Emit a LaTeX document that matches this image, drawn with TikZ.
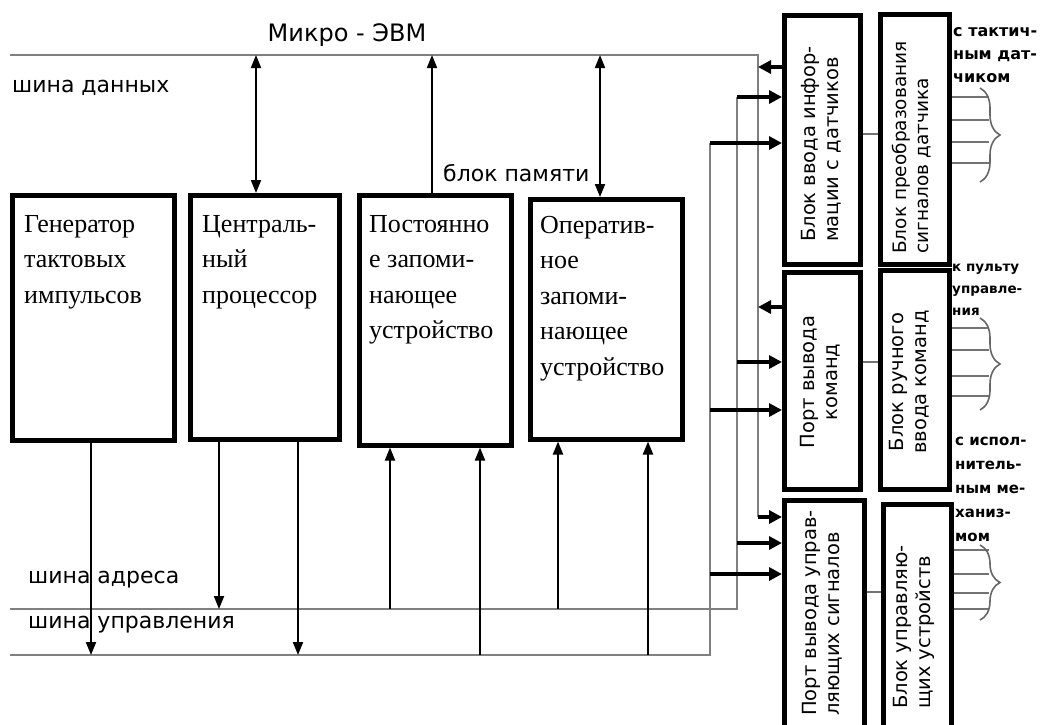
\documentclass[tikz,border=0pt]{standalone}
\usepackage{fontspec}
\setmainfont{Liberation Serif}
\setsansfont{DejaVu Sans}
\usetikzlibrary{arrows.meta,decorations.pathreplacing}

\begin{document}
\begin{tikzpicture}[x=1pt,y=-1pt,
  box/.style={draw, line width=4.5pt, inner sep=0pt, anchor=north west},
  bus/.style={draw=black!50, line width=2pt},
  sig/.style={line width=2pt, -{Triangle[length=13pt,width=10pt]}},
  dsig/.style={line width=2pt, {Triangle[length=13pt,width=10pt]}-{Triangle[length=13pt,width=10pt]}},
  port/.style={line width=3.5pt, -{Triangle[length=13pt,width=13pt]}},
  link/.style={draw=black!55, line width=1.6pt},
  brc/.style={decorate, decoration={brace, amplitude=20pt}, draw=black!60, line width=1.6pt},
  boxtext/.style={font=\fontsize{26}{35.5}\selectfont, align=left, anchor=north west, inner sep=0pt},
  vtext/.style={font=\sffamily\fontsize{19.5}{23}\selectfont, rotate=90, inner sep=0pt},
  lbl/.style={font=\sffamily\fontsize{22}{26}\selectfont, inner sep=0pt},
  side/.style={font=\sffamily\bfseries\fontsize{16}{23}\selectfont, align=left, anchor=west, inner sep=0pt}
]
\useasboundingbox (0,0) rectangle (1041,724);
\fill[white] (0,0) rectangle (1041,724);
\clip (0,0) rectangle (1041,724);

% processor-side blocks
\node[box, minimum width=162pt, minimum height=245pt] (gen) at (10,193) {};
\node[box, minimum width=149pt, minimum height=244pt] (cpu) at (188,193) {};
\node[box, minimum width=152pt, minimum height=250pt] (rom) at (357,193) {};
\node[box, minimum width=152pt, minimum height=240pt] (ram) at (528,197) {};

\node[boxtext] (genT) at (24,215) {Генератор\\тактовых\\импульсов};
\node[boxtext] (cpuT) at (202,215) {Централь-\\ный\\процессор};
\node[boxtext] (romT) at (369,215) {Постоянно\\е запоми-\\нающее\\устройство};
\node[boxtext] (ramT) at (540,216) {Оператив-\\ное\\запоми-\\нающее\\устройство};

% interface blocks
\node[box, minimum width=76pt, minimum height=249pt] (A) at (782,13) {};
\node[box, minimum width=69pt, minimum height=250pt] (B) at (878,12) {};
\node[box, minimum width=76pt, minimum height=217pt] (C) at (782,270) {};
\node[box, minimum width=69pt, minimum height=219pt] (D) at (878,268) {};
\node[box, minimum width=80pt, minimum height=240pt] (E) at (782,498) {};
\node[box, minimum width=68pt, minimum height=236pt] (F) at (881,502) {};

\node[vtext, anchor=west, align=left] (AT) at (821,242) {Блок ввода инфор-\\мации с датчиков};
\node[vtext, anchor=west, align=left, font=\sffamily\fontsize{18.5}{22}\selectfont] (BT) at (912,254) {Блок преобразования\\сигналов датчика};
\node[vtext, align=center] (CT) at (820,382) {Порт вывода\\команд};
\node[vtext, align=center] (DT) at (909,382) {Блок ручного\\ввода команд};
\node[vtext, anchor=west, align=left] (ET) at (822,716) {Порт вывода управ-\\ляющих сигналов};
\node[vtext, anchor=west, align=left] (FT) at (914,709) {Блок управляю-\\щих устройств};

% labels
\node[lbl, font=\sffamily\fontsize{24}{28}\selectfont] (mikro) at (347,35) {Микро - ЭВМ};
\node[lbl, anchor=west] (dbl) at (12,88) {шина данных};
\node[lbl, anchor=west] (mem) at (443,173) {блок памяти};
\node[lbl, anchor=west] (abl) at (28,580) {шина адреса};
\node[lbl, anchor=west] (cbl) at (28,625) {шина управления};

\node[side] (s1) at (953,55) {с тактич-\\ным дат-\\чиком};
\node[side, font=\sffamily\bfseries\fontsize{13.5}{22}\selectfont] (s2) at (952,290) {к пульту\\управле-\\ния};
\node[side, font=\sffamily\bfseries\fontsize{15}{24}\selectfont] (s3) at (955,489) {с испол-\\нитель-\\ным ме-\\ханиз-\\мом};

% buses
\coordinate (db0) at (10,55);  \coordinate (db1) at (758,55);  \coordinate (db2) at (758,517);
\coordinate (ab0) at (10,609); \coordinate (ab1) at (737,609); \coordinate (ab2) at (737,97);
\coordinate (cb0) at (10,655); \coordinate (cb1) at (710,655); \coordinate (cb2) at (710,143);
\draw[bus] (db0) -- (db1) -- (db2);
\draw[bus] (ab0) -- (ab1) -- (ab2);
\draw[bus] (cb0) -- (cb1) -- (cb2);

% data bus taps
\coordinate (t1) at (256,55); \draw[dsig] (t1) -- (t1 |- cpu.north);
\coordinate (t2) at (432,55); \draw[sig] (t2 |- rom.north) -- (t2);
\coordinate (t3) at (600,55); \draw[dsig] (t3) -- (t3 |- ram.north);

% address and control bus taps
\coordinate (g1) at (91,655);  \draw[sig] (g1 |- gen.south) -- (g1);
\coordinate (p1) at (219,609); \draw[sig] (p1 |- cpu.south) -- (p1);
\coordinate (p2) at (298,655); \draw[sig] (p2 |- cpu.south) -- (p2);
\coordinate (r1) at (390,609); \draw[sig] (r1) -- (r1 |- rom.south);
\coordinate (r2) at (480,655); \draw[sig] (r2) -- (r2 |- rom.south);
\coordinate (m1) at (558,609); \draw[sig] (m1) -- (m1 |- ram.south);
\coordinate (m2) at (648,655); \draw[sig] (m2) -- (m2 |- ram.south);

% interface arrows
\coordinate (aO) at (758,67);   \draw[port] (aO -| A.west) -- (aO);
\draw[port] (ab2) -- (ab2 -| A.west);
\draw[port] (cb2) -- (cb2 -| A.west);
\coordinate (cO) at (758,307);  \draw[port] (cO -| C.west) -- (cO);
\coordinate (cI1) at (737,362); \draw[port] (cI1) -- (cI1 -| C.west);
\coordinate (cI2) at (710,410); \draw[port] (cI2) -- (cI2 -| C.west);
\draw[port] (db2) -- (db2 -| E.west);
\coordinate (eI1) at (737,543); \draw[port] (eI1) -- (eI1 -| E.west);
\coordinate (eI2) at (710,574); \draw[port] (eI2) -- (eI2 -| E.west);

% links between paired blocks
\coordinate (l1) at (870,134); \draw[link] (l1 -| A.east) -- (l1 -| B.west);
\coordinate (l2) at (870,362); \draw[link] (l2 -| C.east) -- (l2 -| D.west);
\coordinate (l3) at (870,592); \draw[link] (l3 -| E.east) -- (l3 -| F.west);

% external lines and braces
\foreach \yy in {97,120,142,163} {\coordinate (o) at (989,\yy); \draw[link] (o -| B.east) -- (o);}
\foreach \yy in {328,350,376,396} {\coordinate (o) at (989,\yy); \draw[link] (o -| D.east) -- (o);}
\foreach \yy in {550,574,593,609} {\coordinate (o) at (989,\yy); \draw[link] (o -| F.east) -- (o);}
\coordinate (b1a) at (980,88);  \coordinate (b1b) at (980,182);
\coordinate (b2a) at (980,318); \coordinate (b2b) at (980,410);
\coordinate (b3a) at (980,545); \coordinate (b3b) at (980,620);
\draw[brc] (b1a) -- (b1b);
\draw[brc] (b2a) -- (b2b);
\draw[brc] (b3a) -- (b3b);
\end{tikzpicture}
\end{document}
